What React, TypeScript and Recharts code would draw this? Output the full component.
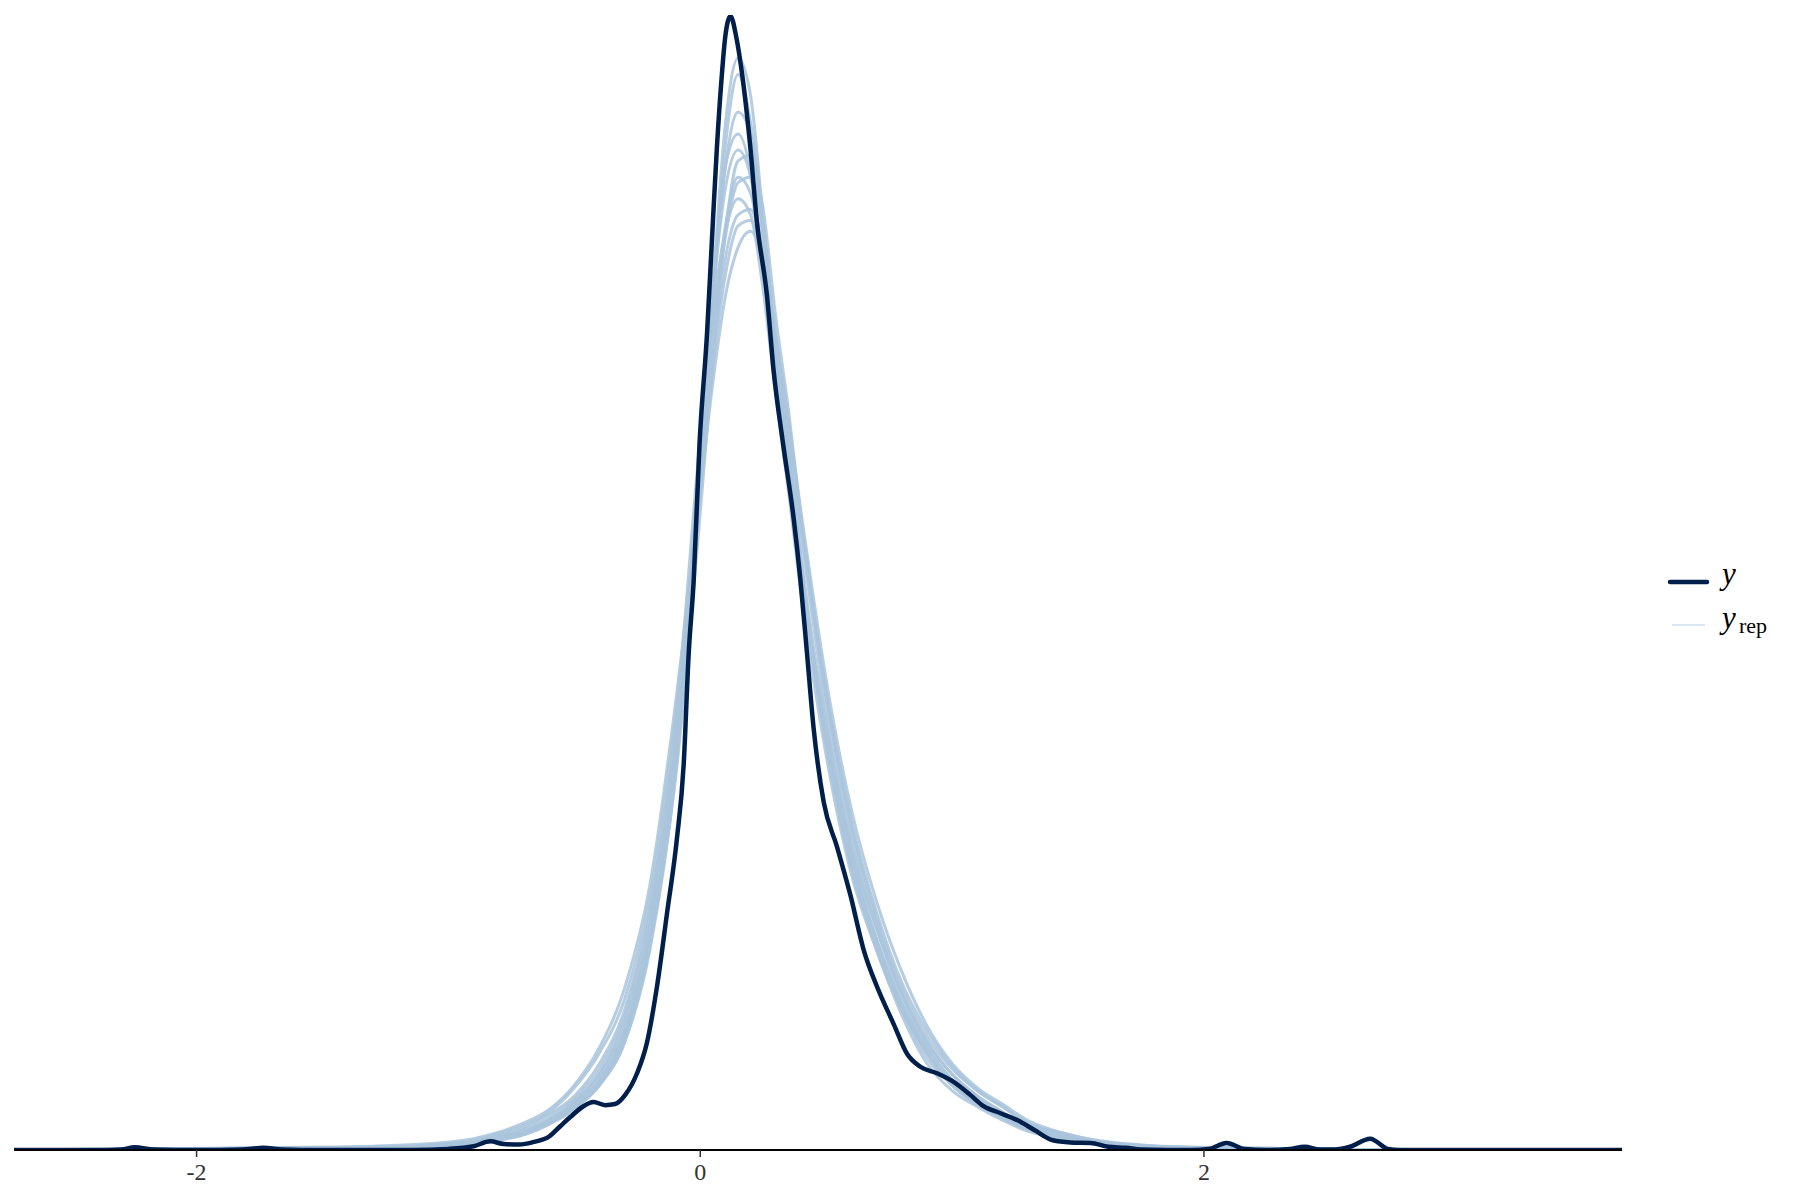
import { Line, LineChart, XAxis, YAxis } from "recharts";

const OBS_X = [
  -2.725, -2.4, -2.3, -2.245, -2.17, -2.0, -1.82, -1.735, -1.66, -1.5, -1.15, -1.0, -0.9, -0.834, -0.78,
  -0.72, -0.66, -0.6, -0.556, -0.516, -0.464, -0.424, -0.378, -0.338, -0.298, -0.251, -0.212, -0.172,
  -0.132, -0.093, -0.066, -0.046, -0.026, -0.003, 0.027, 0.05, 0.066, 0.086, 0.099, 0.12, 0.143, 0.166,
  0.199, 0.225, 0.265, 0.291, 0.329, 0.371, 0.397, 0.424, 0.45, 0.49, 0.543, 0.596, 0.649, 0.702, 0.768,
  0.821, 0.874, 0.94, 1.006, 1.072, 1.125, 1.192, 1.26, 1.33, 1.4, 1.47, 1.55, 1.62, 1.69, 1.75, 1.95,
  2.02, 2.09, 2.16, 2.25, 2.34, 2.4, 2.46, 2.52, 2.58, 2.66, 2.73, 2.78, 3.66,
];
const OBS_D = [
  0, 0, 0.001, 0.005, 0.001, 0, 0.001, 0.004, 0.001, 0, 0, 0.002, 0.007, 0.016, 0.011,
  0.01, 0.015, 0.025, 0.044, 0.061, 0.081, 0.089, 0.083, 0.085, 0.102, 0.142, 0.198, 0.302,
  0.438, 0.575, 0.712, 0.918, 1.055, 1.306, 1.512, 1.717, 1.854, 1.991, 2.059, 2.098, 2.059, 1.991,
  1.854, 1.717, 1.58, 1.443, 1.306, 1.168, 1.058, 0.918, 0.781, 0.644, 0.561, 0.472, 0.37, 0.302, 0.233,
  0.178, 0.154, 0.142, 0.126, 0.102, 0.081, 0.068, 0.055, 0.036, 0.018, 0.014, 0.013, 0.006, 0.004, 0.001, 0,
  0.002, 0.013, 0.002, 0, 0.002, 0.006, 0.001, 0.001, 0.006, 0.021, 0.002, 0, 0,
];

// replicated densities (y_rep), all on one grid
const REP_X = [
  -2.725, -2.0, -1.6, -1.3, -1.1, -0.9, -0.8, -0.7, -0.6, -0.5, -0.4, -0.3, -0.2, -0.1, 0, 0.05, 0.1, 0.15,
  0.2, 0.25, 0.3, 0.35, 0.4, 0.45, 0.5, 0.6, 0.7, 0.8, 0.9, 1.0, 1.1, 1.2, 1.3, 1.45, 1.6, 1.8, 2.0, 2.3,
  2.6, 3.66,
];
const REP_1 = [0, 0.001, 0.003, 0.004, 0.007, 0.012, 0.02, 0.03, 0.05, 0.08, 0.12, 0.21, 0.38, 0.7, 1.28, 1.58, 1.86, 1.99, 1.9, 1.7, 1.46, 1.27, 1.07, 0.9, 0.75, 0.52, 0.37, 0.26, 0.18, 0.12, 0.085, 0.06, 0.04, 0.02, 0.01, 0.005, 0.003, 0.002, 0.001, 0];
const REP_2 = [0, 0.002, 0.004, 0.005, 0.006, 0.014, 0.024, 0.035, 0.055, 0.09, 0.14, 0.24, 0.42, 0.74, 1.28, 1.52, 1.71, 1.8, 1.77, 1.63, 1.44, 1.29, 1.1, 0.93, 0.79, 0.56, 0.41, 0.29, 0.2, 0.14, 0.1, 0.07, 0.045, 0.025, 0.012, 0.006, 0.004, 0.002, 0.001, 0];
const REP_3 = [0, 0.003, 0.004, 0.006, 0.009, 0.018, 0.03, 0.046, 0.07, 0.115, 0.18, 0.28, 0.47, 0.8, 1.24, 1.45, 1.62, 1.71, 1.72, 1.63, 1.47, 1.32, 1.15, 0.99, 0.84, 0.6, 0.43, 0.3, 0.21, 0.15, 0.11, 0.08, 0.05, 0.03, 0.015, 0.007, 0.004, 0.002, 0.001, 0];
const REP_4 = [0, 0.001, 0.002, 0.004, 0.006, 0.011, 0.018, 0.028, 0.048, 0.075, 0.12, 0.2, 0.38, 0.7, 1.3, 1.6, 1.82, 1.88, 1.81, 1.63, 1.4, 1.22, 1.03, 0.87, 0.73, 0.51, 0.37, 0.25, 0.16, 0.11, 0.08, 0.055, 0.035, 0.02, 0.01, 0.005, 0.003, 0.001, 0.001, 0];
const REP_5 = [0, 0.002, 0.003, 0.004, 0.007, 0.013, 0.022, 0.032, 0.05, 0.085, 0.13, 0.22, 0.39, 0.68, 1.18, 1.46, 1.7, 1.83, 1.84, 1.74, 1.54, 1.37, 1.17, 1.0, 0.84, 0.59, 0.42, 0.29, 0.2, 0.14, 0.1, 0.07, 0.045, 0.025, 0.012, 0.006, 0.004, 0.003, 0.001, 0];
const REP_6 = [0, 0.002, 0.004, 0.005, 0.008, 0.015, 0.025, 0.038, 0.06, 0.095, 0.15, 0.25, 0.44, 0.78, 1.32, 1.55, 1.7, 1.76, 1.73, 1.59, 1.4, 1.25, 1.08, 0.91, 0.77, 0.55, 0.39, 0.27, 0.19, 0.13, 0.09, 0.065, 0.04, 0.022, 0.011, 0.006, 0.004, 0.002, 0.001, 0];
const REP_7 = [0, 0.001, 0.003, 0.004, 0.006, 0.012, 0.02, 0.03, 0.05, 0.08, 0.125, 0.21, 0.39, 0.71, 1.26, 1.57, 1.82, 1.92, 1.88, 1.68, 1.46, 1.29, 1.09, 0.91, 0.77, 0.54, 0.39, 0.27, 0.18, 0.125, 0.09, 0.06, 0.04, 0.022, 0.011, 0.005, 0.003, 0.002, 0.001, 0];
const REP_8 = [0, 0.002, 0.003, 0.005, 0.008, 0.016, 0.027, 0.042, 0.066, 0.1, 0.16, 0.26, 0.45, 0.76, 1.24, 1.47, 1.65, 1.73, 1.74, 1.65, 1.5, 1.35, 1.17, 1.0, 0.85, 0.61, 0.44, 0.31, 0.22, 0.155, 0.11, 0.08, 0.05, 0.028, 0.014, 0.007, 0.004, 0.002, 0.001, 0];
const REP_9 = [0, 0.001, 0.003, 0.004, 0.006, 0.012, 0.02, 0.031, 0.052, 0.085, 0.13, 0.22, 0.41, 0.73, 1.29, 1.58, 1.78, 1.85, 1.8, 1.64, 1.43, 1.26, 1.07, 0.9, 0.76, 0.53, 0.38, 0.26, 0.17, 0.12, 0.085, 0.06, 0.038, 0.02, 0.01, 0.005, 0.003, 0.002, 0.001, 0];
const REP_10 = [0, 0.002, 0.003, 0.004, 0.007, 0.013, 0.022, 0.034, 0.055, 0.088, 0.14, 0.23, 0.41, 0.72, 1.22, 1.5, 1.69, 1.79, 1.8, 1.7, 1.5, 1.33, 1.14, 0.97, 0.81, 0.57, 0.41, 0.28, 0.19, 0.13, 0.095, 0.07, 0.045, 0.024, 0.012, 0.006, 0.004, 0.002, 0.001, 0];
const REP_11 = [0, 0.001, 0.002, 0.004, 0.006, 0.011, 0.019, 0.029, 0.048, 0.078, 0.12, 0.2, 0.37, 0.69, 1.26, 1.6, 1.9, 2.02, 1.95, 1.72, 1.48, 1.29, 1.08, 0.9, 0.75, 0.53, 0.38, 0.26, 0.18, 0.12, 0.085, 0.06, 0.04, 0.021, 0.01, 0.005, 0.003, 0.002, 0.001, 0];
const REP_12 = [0, 0.003, 0.005, 0.007, 0.011, 0.021, 0.033, 0.05, 0.075, 0.12, 0.19, 0.3, 0.49, 0.82, 1.22, 1.42, 1.58, 1.67, 1.7, 1.64, 1.5, 1.35, 1.18, 1.02, 0.87, 0.63, 0.46, 0.33, 0.23, 0.16, 0.115, 0.085, 0.055, 0.03, 0.016, 0.008, 0.005, 0.003, 0.001, 0];
const REPS = [REP_1, REP_2, REP_3, REP_4, REP_5, REP_6, REP_7, REP_8, REP_9, REP_10, REP_11, REP_12];

const X_TICKS = [-2, 0, 2];

const DARK = "#011f4b";
const LIGHT = "#a9c4dc";
const SERIF = '"Liberation Serif", "Times New Roman", serif';

const obsRows = OBS_X.map((x, i) => ({ x, d: OBS_D[i] }));
const repSeries = REPS.map((rep) => REP_X.map((x, i) => ({ x, d: rep[i] })));

function LegendBox() {
  return (
    <svg width={150} height={120} style={{ position: "absolute", left: 1650, top: 540 }}>
      <line x1={20} x2={57} y1={42} y2={42} stroke={DARK} strokeWidth={4.5} strokeLinecap="round" />
      <text x={72} y={44} fontFamily={SERIF} fontStyle="italic" fontSize={31} fill="#000">
        y
      </text>
      <line x1={22} x2={55} y1={85} y2={85} stroke={LIGHT} strokeOpacity={0.55} strokeWidth={1.6} />
      <text x={72} y={88} fontFamily={SERIF} fontStyle="italic" fontSize={31} fill="#000">
        y
      </text>
      <text x={89} y={93} fontFamily={SERIF} fontSize={22} fill="#000">
        rep
      </text>
    </svg>
  );
}

export default function App() {
  return (
    <div style={{ position: "absolute", left: 0, top: 0, width: 1800, height: 1200, background: "#fff" }}>
      <LineChart width={1800} height={1200} margin={{ top: 15, right: 178, left: 14, bottom: 10 }}>
        <XAxis
          dataKey="x"
          type="number"
          domain={[-2.725, 3.66]}
          ticks={X_TICKS}
          allowDataOverflow
          height={40}
          tickSize={7}
          tickMargin={6}
          axisLine={{ stroke: "#000", strokeWidth: 2 }}
          tickLine={{ stroke: "#333", strokeWidth: 1.5 }}
          tick={{ fill: "#333", fontSize: 24, fontFamily: SERIF }}
        />
        <YAxis
          type="number"
          domain={[0, 2.1]}
          allowDataOverflow
          width={0}
          tick={false}
          tickLine={false}
          axisLine={{ stroke: "#000", strokeWidth: 2 }}
        />
        {repSeries.map((rows, k) => (
          <Line
            key={`rep${k}`}
            data={rows}
            dataKey="d"
            type="monotone"
            stroke={LIGHT}
            strokeOpacity={0.85}
            strokeWidth={3}
            dot={false}
            activeDot={false}
            isAnimationActive={false}
          />
        ))}
        <Line
          data={obsRows}
          dataKey="d"
          type="monotone"
          stroke={DARK}
          strokeWidth={4.5}
          dot={false}
          activeDot={false}
          isAnimationActive={false}
        />
      </LineChart>
      <LegendBox />
    </div>
  );
}
